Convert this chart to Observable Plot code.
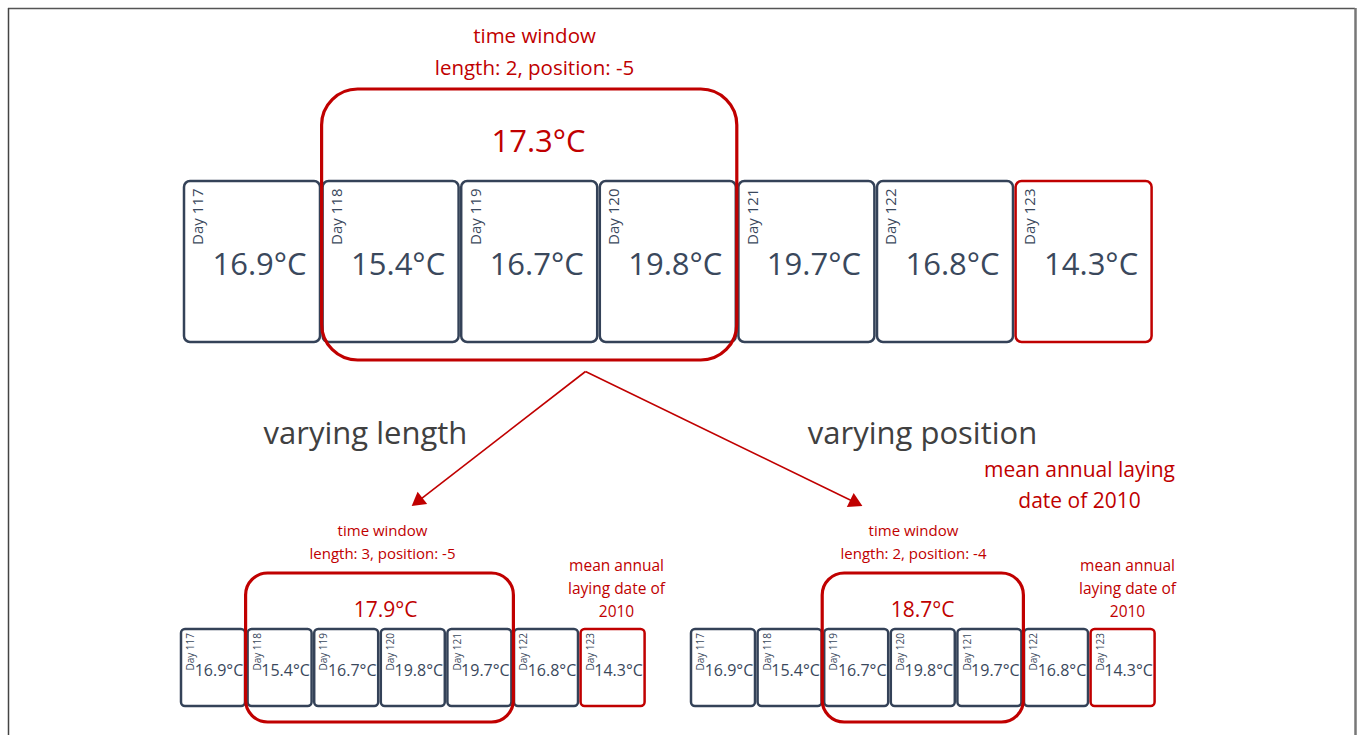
<!DOCTYPE html>
<html>
<head>
<meta charset="utf-8">
<script src="https://cdn.jsdelivr.net/npm/d3@7"></script>
<script src="https://cdn.jsdelivr.net/npm/@observablehq/plot@0.6"></script>
<style>
  html, body { margin: 0; padding: 0; background: #ffffff; overflow: hidden; }
  #chart svg { display: block; }
</style>
</head>
<body>
<div id="chart"></div>
<script>
// ---------- DATA ----------
const days = [117, 118, 119, 120, 121, 122, 123];
const temps = [16.9, 15.4, 16.7, 19.8, 19.7, 16.8, 14.3];
const layingDay = 123; // mean annual laying date of 2010

const panelNames = ["main", "length", "position"];
const windowStartDay = [118, 118, 119];
const windowEndDay = [120, 121, 121];
const windowMeans = [17.3, 17.9, 18.7];
const windowLengths = [2, 3, 2];
const windowPositions = [-5, -5, -4];

const headings = ["varying length", "varying position"];
const headingPanels = ["length", "position"];
const noteLinesMain = ["mean annual laying", "date of 2010"];
const noteLinesSmall = ["mean annual", "laying date of", "2010"];

// ---------- LAYOUT & STYLE (not data) ----------
const RED = "#c00000";
const SLATE = "#344258";
const SLATE_TEXT = "#3a485c";
const GREY = "#404040";
const FONT = "'Open Sans', sans-serif";

const layout = {
  main:     {x0: 184, pitch: 138.6, w: 136, top: 181, h: 161, r: 6, sw: 2.5,
             tempSize: 31, tempDx: 7, tempDy: 84, daySize: 15, dayDx: 14, dayDy: 7,
             winPad: 1, winTop: 89, winBottom: 360, winR: 36, winSw: 3.2,
             titleX: 534, titleY: 48, titleSize: 20.5, titleLH: 1.58,
             meanX: 538, meanY: 142, meanSize: 31},
  length:   {x0: 181, pitch: 66.6, w: 64, top: 629, h: 77, r: 4, sw: 2.5,
             tempSize: 16, tempDx: 5.5, tempDy: 41, daySize: 10, dayDx: 9.5, dayDy: 3.5,
             winPad: 2, winTop: 573, winBottom: 722, winR: 22, winSw: 3.2,
             titleX: 382, titleY: 539.5, titleSize: 15, titleLH: 1.53,
             meanX: 385, meanY: 610, meanSize: 21,
             noteX: 616, noteY: 586, headX: 365, tipX: 412, tipY: 505},
  position: {x0: 691, pitch: 66.6, w: 64, top: 629, h: 77, r: 4, sw: 2.5,
             tempSize: 16, tempDx: 5.5, tempDy: 41, daySize: 10, dayDx: 9.5, dayDy: 3.5,
             winPad: 2, winTop: 573, winBottom: 722, winR: 22, winSw: 3.2,
             titleX: 913, titleY: 539.5, titleSize: 15, titleLH: 1.53,
             meanX: 922, meanY: 610, meanSize: 21,
             noteX: 1127, noteY: 586, headX: 922, tipX: 861, tipY: 505}
};
const headY = 434, headSize = 31;
const apex = {x: 585, y: 371};
const mainNote = {x: 1079, y: 482, size: 21, lh: 1.47};
const smallNote = {size: 15.5, lh: 1.48};

// ---------- BUILD TABLES ----------
const cells = [];
panelNames.forEach(p => {
  const L = layout[p];
  days.forEach((d, i) => {
    const left = L.x0 + i * L.pitch;
    cells.push({panel: p, day: d, temp: temps[i], left, right: left + L.w,
                top: L.top, bottom: L.top + L.h, L});
  });
});
const cellOf = (p, d) => cells.find(c => c.panel === p && c.day === d);

const windows = panelNames.map((p, k) => {
  const L = layout[p];
  const a = cellOf(p, windowStartDay[k]), b = cellOf(p, windowEndDay[k]);
  return {panel: p, L, x1: a.left - L.winPad, x2: b.right + L.winPad,
          y1: L.winTop, y2: L.winBottom, mean: windowMeans[k],
          title: `time window\nlength: ${windowLengths[k]}, position: ${windowPositions[k]}`};
});

const arrows = headingPanels.map(p => {
  const L = layout[p];
  const dx = L.tipX - apex.x, dy = L.tipY - apex.y;
  const len = Math.hypot(dx, dy);
  const back = 8;
  return {x1: apex.x, y1: apex.y,
          x2: L.tipX - dx / len * back, y2: L.tipY - dy / len * back,
          angle: Math.atan2(dx, -dy) * 180 / Math.PI};
});

const heads = headings.map((h, i) => ({text: h, x: layout[headingPanels[i]].headX, y: headY}));

const smallNotes = headingPanels.map(p => ({x: layout[p].noteX, y: layout[p].noteY, text: noteLinesSmall.join("\n")}));

// ---------- MARKS ----------
const marks = [
  // outer frame
  Plot.ruleY([8], {x1: 8, x2: 1355, stroke: "#555", strokeWidth: 1.5}),
  Plot.ruleX([8], {y1: 8, y2: 735, stroke: "#444", strokeWidth: 1.5}),
  Plot.ruleX([1355], {y1: 8, y2: 735, stroke: "#777", strokeWidth: 2.5})
];

panelNames.forEach(p => {
  const L = layout[p];
  const cs = cells.filter(c => c.panel === p);
  marks.push(
    Plot.rect(cs, {x1: "left", x2: "right", y1: "top", y2: "bottom", rx: L.r,
      fill: "white", stroke: d => d.day === layingDay ? RED : SLATE, strokeWidth: L.sw}),
    Plot.text(cs, {x: d => d.left + L.dayDx, y: d => d.top + L.dayDy, text: d => `Day ${d.day}`,
      rotate: -90, textAnchor: "end", lineAnchor: "middle", fontSize: L.daySize, fill: SLATE_TEXT}),
    Plot.text(cs, {x: d => (d.left + d.right) / 2 + L.tempDx, y: d => d.top + L.tempDy,
      text: d => `${d.temp.toFixed(1)}°C`, fontSize: L.tempSize, fill: SLATE_TEXT, lineAnchor: "middle"})
  );
});

windows.forEach(w => {
  const L = w.L;
  marks.push(
    Plot.rect([w], {x1: "x1", x2: "x2", y1: "y1", y2: "y2", rx: L.winR, fill: "none", stroke: RED, strokeWidth: L.winSw}),
    Plot.text([w], {x: () => L.meanX, y: () => L.meanY, text: d => `${d.mean.toFixed(1)}°C`, fontSize: L.meanSize, fill: RED, lineAnchor: "middle"}),
    Plot.text([w], {x: () => L.titleX, y: () => L.titleY, text: "title", fontSize: L.titleSize, lineHeight: L.titleLH, fill: RED, lineAnchor: "middle"})
  );
});

marks.push(
  Plot.link(arrows, {x1: "x1", y1: "y1", x2: "x2", y2: "y2", stroke: RED, strokeWidth: 1.6}),
  Plot.dot(arrows, {x: "x2", y: "y2", symbol: "triangle", r: 5.8, fill: RED, stroke: "none", rotate: "angle"}),
  Plot.text(heads, {x: "x", y: "y", text: "text", fontSize: headSize, fill: GREY, lineAnchor: "middle"}),
  Plot.text([noteLinesMain.join("\n")], {x: () => mainNote.x, y: () => mainNote.y, text: d => d, fontSize: mainNote.size, lineHeight: mainNote.lh, fill: RED, lineAnchor: "middle"}),
  Plot.text(smallNotes, {x: "x", y: "y", text: "text", fontSize: smallNote.size, lineHeight: smallNote.lh, fill: RED, lineAnchor: "middle"})
);

const chart = Plot.plot({
  width: 1358,
  height: 735,
  margin: 0,
  x: {domain: [0, 1358], range: [0, 1358], axis: null},
  y: {domain: [0, 735], range: [0, 735], axis: null},
  style: {fontFamily: FONT, background: "white", overflow: "visible"},
  marks
});
document.getElementById("chart").appendChild(chart);
</script>
</body>
</html>
